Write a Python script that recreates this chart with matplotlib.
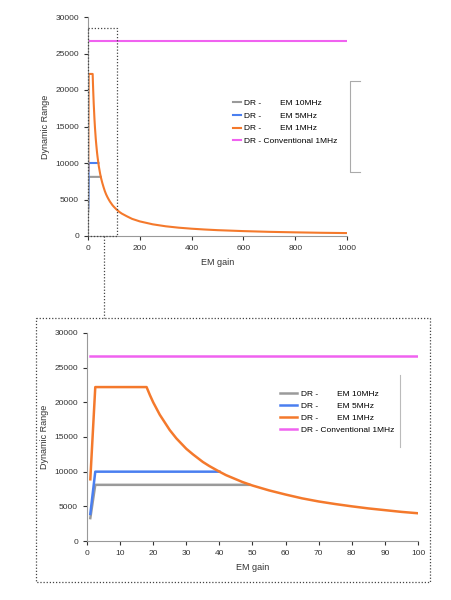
import matplotlib
matplotlib.use("Agg")
import matplotlib.pyplot as plt
from matplotlib.lines import Line2D

# values
decay_gain = [18, 19, 20, 22, 25, 27, 30, 32, 35, 37, 40, 42, 45, 47, 50, 55,
              60, 65, 70, 75, 80, 85, 90, 95, 100, 110, 120, 130, 150, 170, 200,
              250, 300, 350, 400, 450, 500, 600, 700, 800, 900, 1000]
decay_dr = [22200, 21050, 20000, 18200, 16000, 14800, 13300, 12500, 11400,
            10800, 10000, 9500, 8900, 8500, 8000, 7300, 6700, 6150, 5700, 5330,
            5000, 4700, 4450, 4200, 4000, 3640, 3330, 3080, 2700, 2350, 2000,
            1600, 1330, 1140, 1000, 890, 800, 670, 570, 500, 440, 400]

gain_1mhz = [1, 2.5] + decay_gain
dr_1mhz = [8900, 22200] + decay_dr
gain_5mhz = [1, 2.5, 40]
dr_5mhz = [3900, 10000, 10000]
gain_10mhz = [1, 2.5, 49]
dr_10mhz = [3300, 8100, 8100]
gain_conv = [1, 1000]
dr_conv = [26700, 26700]

labels = ["DR -        EM 10MHz", "DR -        EM 5MHz", "DR -        EM 1MHz",
          "DR - Conventional 1MHz"]
colors = ["#9a9a9a", "#4a7ff0", "#f4792c", "#f062f0"]

W, H = 451, 600
fig = plt.figure(figsize=(W / 100, H / 100), dpi=100)
plt.rcParams["font.family"] = ["Liberation Sans", "DejaVu Sans"]


def rect(x0, y0, x1, y1):
    return [x0 / W, 1 - y1 / H, (x1 - x0) / W, (y1 - y0) / H]


def draw(ax, xmax, xticks, lw):
    ax.plot(gain_10mhz, dr_10mhz, color=colors[0], lw=lw, label=labels[0])
    ax.plot(gain_5mhz, dr_5mhz, color=colors[1], lw=lw, label=labels[1])
    ax.plot(gain_1mhz, dr_1mhz, color=colors[2], lw=lw, label=labels[2])
    ax.plot(gain_conv, dr_conv, color=colors[3], lw=lw, label=labels[3])
    ax.set_xlim(0, xmax)
    ax.set_ylim(0, 30000)
    ax.set_xticks(xticks)
    ax.set_yticks(range(0, 30001, 5000))
    for s in ["top", "right"]:
        ax.spines[s].set_visible(False)
    for s in ["left", "bottom"]:
        ax.spines[s].set_color("#999999")
    ax.tick_params(labelsize=6, colors="#333333", length=3)
    ax.set_xlabel("EM gain", fontsize=6.5, color="#333333")
    ax.set_ylabel("Dynamic Range", fontsize=6.5, color="#333333")


ax1 = fig.add_axes(rect(88, 17, 347, 236))
draw(ax1, 1000, range(0, 1001, 200), 1.5)
ax1.legend(loc="upper left", bbox_to_anchor=(0.53, 0.66), frameon=False,
           fontsize=6, handlelength=1.0, handletextpad=0.3, labelspacing=0.6)

ax2 = fig.add_axes(rect(87, 333, 418, 541))
draw(ax2, 100, range(0, 101, 10), 1.8)
ax2.legend(loc="upper left", bbox_to_anchor=(0.56, 0.76), frameon=False,
           fontsize=6, handlelength=2.0, handletextpad=0.5, labelspacing=0.5)


def fline(xs, ys, **kw):
    fig.add_artist(Line2D([x / W for x in xs], [1 - y / H for y in ys],
                          transform=fig.transFigure, **kw))


dot = dict(color="#444444", lw=0.9, ls=(0, (1, 1.5)))
fline([88, 117, 117, 88, 88], [28, 28, 236, 236, 28], **dot)
fline([104, 104], [236, 318], **dot)
fline([36, 430, 430, 36, 36], [318, 318, 582, 582, 318], **dot)
fline([360, 350, 350, 360], [81, 81, 172, 172], color="#aaaaaa", lw=0.8)
fline([400, 400], [375, 447], color="#bbbbbb", lw=0.8)

fig.savefig("out.png", dpi=100)
